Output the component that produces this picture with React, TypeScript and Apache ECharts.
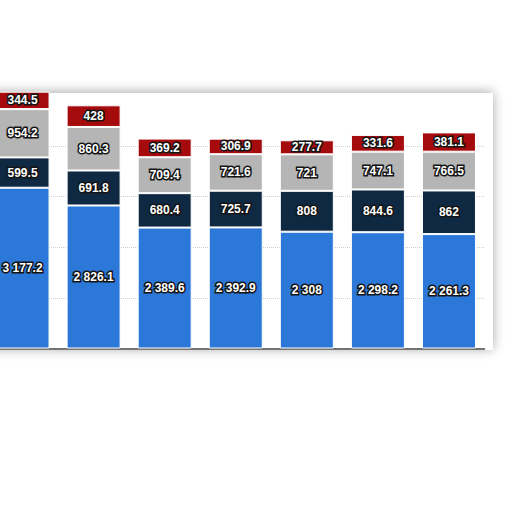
import { useEffect, useRef } from "react";
import * as echarts from "echarts";

const categories = ["2015", "2016", "2017", "2018", "2019", "2020", "2021"];
const blueValues = [3177.2, 2826.1, 2389.6, 2392.9, 2308, 2298.2, 2261.3];
const navyValues = [599.5, 691.8, 680.4, 725.7, 808, 844.6, 862];
const grayValues = [954.2, 860.3, 709.4, 721.6, 721, 747.1, 766.5];
const redValues = [344.5, 428, 369.2, 306.9, 277.7, 331.6, 381.1];

const C = {
  blue: "#2c78d9",
  navy: "#0f2942",
  gray: "#b5b5b5",
  red: "#a50b0d",
  grid: "#cfcfcf",
  axis: "#4a4a4a",
};

const fmt = (v: number) => {
  const [i, d] = String(v).split(".");
  const s = i.replace(/\B(?=(\d{3})+(?!\d))/g, " ");
  return d ? `${s}.${d}` : s;
};

export default function App() {
  const ref = useRef<HTMLDivElement>(null);

  useEffect(() => {
    if (!ref.current) return;
    const chart = echarts.init(ref.current, null, { renderer: "svg" });

    const mk = (name: string, data: number[], color: string) => ({
      name,
      type: "bar" as const,
      stack: "total",
      data,
      barWidth: 54,
      clip: false,
      itemStyle: { color, borderColor: "#ffffff", borderWidth: 1 },
      label: {
        show: true,
        position: "inside" as const,
        formatter: (p: any) => fmt(p.value),
        color: "#ffffff",
        fontFamily: "Liberation Sans, Arial, sans-serif",
        fontWeight: "bold" as const,
        fontSize: 12,
        textBorderColor: "#141414",
        textBorderWidth: 3,
      },
    });

    chart.setOption({
      animation: false,
      backgroundColor: "#ffffff",
      graphic: [
        {
          type: "rect",
          z: 0,
          shape: { x: -10, y: 93, width: 516, height: 257 },
          style: { fill: "#ffffff", shadowBlur: 12, shadowColor: "rgba(0,0,0,0.35)", shadowOffsetY: -1 },
        },
      ],
      grid: { left: 0, right: 27.5, top: 95.5, bottom: 163.5 },
      xAxis: {
        type: "category",
        data: categories,
        z: 1,
        axisLine: { lineStyle: { color: C.axis, width: 1.5 } },
        axisTick: { show: false },
        axisLabel: { show: false },
      },
      yAxis: {
        type: "value",
        min: 0,
        max: 5000,
        interval: 1000,
        z: 1,
        axisLine: { show: false },
        axisTick: { show: false },
        axisLabel: { show: false },
        splitLine: {
          lineStyle: {
            color: [C.grid, C.grid, C.grid, C.grid, C.grid, "rgba(0,0,0,0)"],
            type: "dotted",
            width: 1,
          },
        },
      },
      series: [
        mk("Blue", blueValues, C.blue),
        mk("Navy", navyValues, C.navy),
        mk("Gray", grayValues, C.gray),
        mk("Red", redValues, C.red),
      ],
    });

    return () => chart.dispose();
  }, []);

  return (
    <div
      ref={ref}
      style={{ position: "absolute", left: -13, top: 0, width: 525, height: 512 }}
    />
  );
}
